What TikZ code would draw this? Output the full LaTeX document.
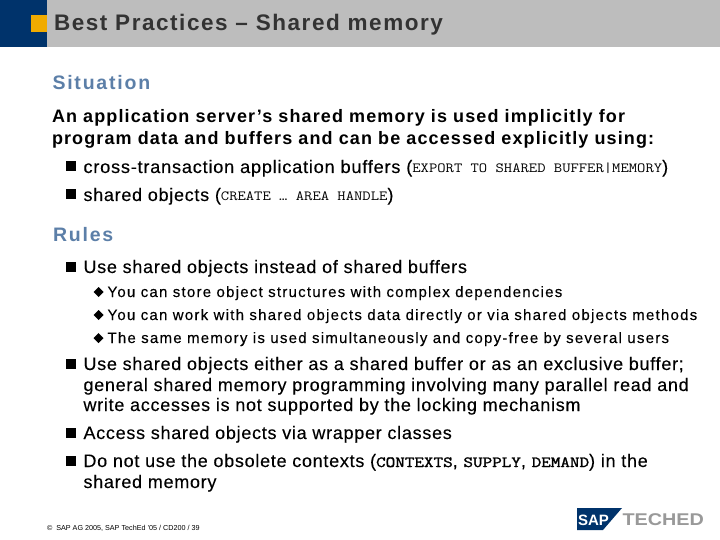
\documentclass[tikz,border=0pt]{standalone}
\usepackage{fontspec}
\setmainfont{Liberation Sans}
\definecolor{sapnavy}{HTML}{00336B}
\definecolor{sapgold}{HTML}{F0AB00}
\definecolor{bargrey}{HTML}{BDBDBD}
\definecolor{titleink}{HTML}{333333}
\definecolor{headblue}{HTML}{5C7FA8}
\definecolor{logogrey}{HTML}{999999}
\newfontface\lsBody[LetterSpace=4.0,FakeBold=0.15]{Liberation Sans}
\newfontface\lsSub[LetterSpace=8.3,FakeBold=0.15]{Liberation Sans}
\newfontface\lsIntro[LetterSpace=6.2]{Liberation Sans Bold}
\newfontface\lsHead[LetterSpace=9.2]{Liberation Sans Bold}
\newfontface\lsTitle[LetterSpace=6.9]{Liberation Sans Bold}
\newfontface\cdbface[FakeBold=1.5]{Latin Modern Mono}
\tikzset{
  x=1pt,y=-1pt,
  txt/.style={anchor=base west,inner sep=0pt,outer sep=0pt,align=left,text=black},
  titletxt/.style={txt,text=titleink,font=\lsTitle\fontsize{22.5}{26}\selectfont},
  headtxt/.style={txt,text=headblue,font=\lsHead\fontsize{19.5}{22}\selectfont},
  introtxt/.style={txt,font=\lsIntro\fontsize{18}{21}\selectfont},
  bodytxt/.style={txt,font=\lsBody\fontsize{18}{21}\selectfont},
  subtxt/.style={txt,font=\lsSub\fontsize{15}{17}\selectfont},
  foot/.style={txt,font=\fontsize{7.2}{9}\selectfont},
  bul/.style={fill=black,draw=none},
}
\newcommand{\cd}[1]{\scalebox{1.155}[1]{\ttfamily\fontsize{14}{16}\selectfont #1}}
\newcommand{\cdb}[1]{\scalebox{1.2}[1]{\cdbface\fontsize{15.5}{17}\selectfont #1}}
\newcommand{\sqb}[2]{\fill[bul] (#1,#2) rectangle ++(10,10);}
\newcommand{\dmd}[2]{\fill[bul] (#1,#2) -- ++(5,-5) -- ++(5,5) -- ++(-5,5) -- cycle;}
\begin{document}
\begin{tikzpicture}
\useasboundingbox (0,0) rectangle (720,540);
\fill[white] (0,0) rectangle (720,540);
\fill[bargrey] (47,0) rectangle (720,47);
\fill[sapnavy] (0,0) rectangle (47,47);
\fill[sapgold] (31,15.5) rectangle (47,32);
\node[titletxt] (title) at (54,31) {Best Practices – Shared memory};
\node[headtxt] (situation) at (52.5,90) {Situation};
\node[introtxt] (intro1) at (52,123) {An application server’s shared memory is used implicitly for};
\node[introtxt] (intro2) at (52,145) {program data and buffers and can be accessed explicitly using:};
\sqb{66}{161.5}
\node[bodytxt] (b1) at (83.5,173) {\scalebox{1.015}[1]{cross-transaction application buffers (}\cd{EXPORT TO SHARED BUFFER|MEMORY})};
\sqb{66}{189.5}
\node[bodytxt] (b2) at (83.5,201) {shared objects (\cd{CREATE … AREA HANDLE})};
\node[headtxt] (rules) at (53,241) {Rules};
\sqb{66}{261.5}
\node[bodytxt] (b3) at (83.5,273) {Use shared objects instead of shared buffers};
\dmd{93.5}{292}
\node[subtxt] (s1) at (107.5,297) {You can store object structures with complex dependencies};
\dmd{93.5}{315}
\node[subtxt] (s2) at (107.5,320) {You can work with shared objects data directly or via shared objects methods};
\dmd{93.5}{338}
\node[subtxt] (s3) at (107.5,343) {The same memory is used simultaneously and copy-free by several users};
\sqb{66}{358.5}
\node[bodytxt] (b4) at (83.5,370) {Use shared objects either as a shared buffer or as an exclusive buffer;};
\node[bodytxt] (b4b) at (83.5,391) {general shared memory programming involving many parallel read and};
\node[bodytxt] (b4c) at (83.5,411) {write accesses is not supported by the locking mechanism};
\sqb{66}{427.5}
\node[bodytxt] (b5) at (83.5,439) {Access shared objects via wrapper classes};
\sqb{66}{455.5}
\node[bodytxt] (b6) at (83.5,467) {Do not use the obsolete contexts (\cdb{CONTEXTS}, \cdb{SUPPLY}, \cdb{DEMAND}) in the};
\node[bodytxt] (b6b) at (83.5,488) {shared memory};
\node[foot] (copy) at (47,530) {©\ \ SAP AG 2005, SAP TechEd ’05 / CD200 / 39};
\fill[sapnavy] (577,508) -- (622,508) -- (603,530) -- (577,530) -- cycle;
\node[txt,text=white,font=\bfseries\fontsize{15}{15}\selectfont] (sap) at (578,525) {SAP};
\node[txt,text=logogrey,font=\bfseries\fontsize{17}{17}\selectfont] (teched) at (622.5,525) {\scalebox{1.165}[1]{TECHED}};
\end{tikzpicture}
\end{document}
